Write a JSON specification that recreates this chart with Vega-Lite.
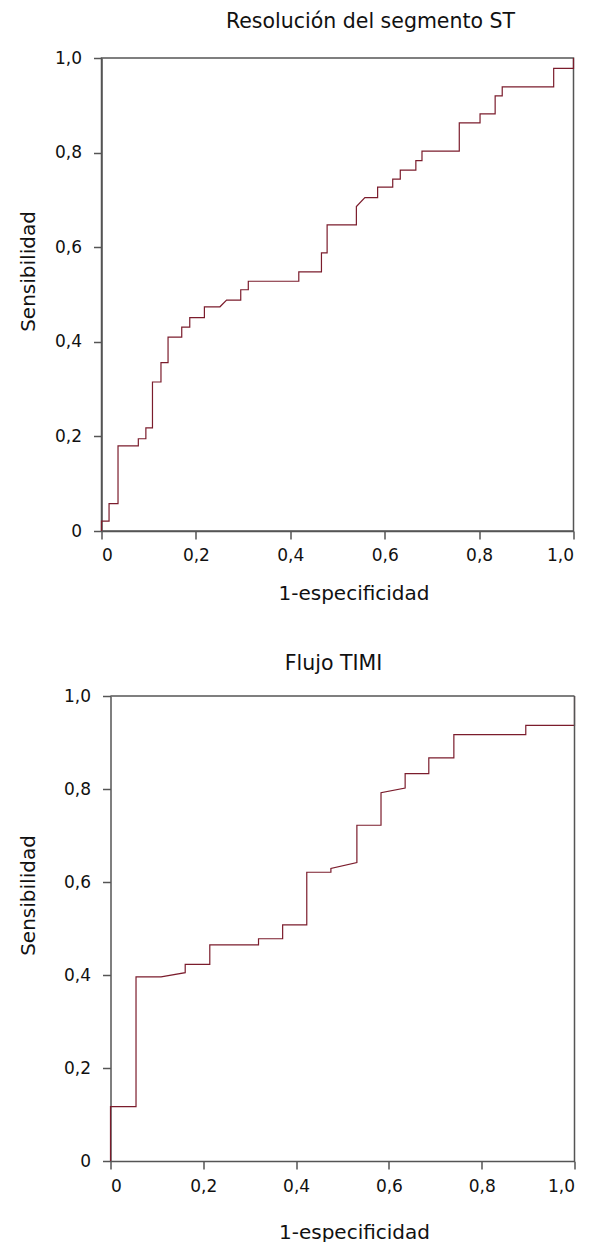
{
  "$schema": "https://vega.github.io/schema/vega-lite/v6.json",
  "background": "white",
  "padding": {"left": 16.5, "top": 10, "right": 5, "bottom": 0},
  "columns": 1,
  "align": "none",
  "spacing": 48,
  "config": {
    "font": "DejaVu Sans",
    "view": {"stroke": "#555555", "strokeWidth": 1.5},
    "axis": {
      "grid": false,
      "domainColor": "#555555",
      "domainWidth": 1.5,
      "tickColor": "#555555",
      "tickWidth": 1.5,
      "tickSize": 8,
      "labelFontSize": 17,
      "labelColor": "#111111",
      "titleFontSize": 20,
      "titleFontWeight": "normal",
      "titleColor": "#111111"
    },
    "title": {"fontSize": 20.5, "fontWeight": "normal", "color": "#111111"}
  },
  "datasets": {
    "st": [
      {"i": 0, "x": 0, "y": 0},
      {"i": 1, "x": 0, "y": 0.021},
      {"i": 2, "x": 0.016, "y": 0.021},
      {"i": 3, "x": 0.016, "y": 0.058},
      {"i": 4, "x": 0.035, "y": 0.058},
      {"i": 5, "x": 0.035, "y": 0.18},
      {"i": 6, "x": 0.078, "y": 0.18},
      {"i": 7, "x": 0.078, "y": 0.195},
      {"i": 8, "x": 0.094, "y": 0.195},
      {"i": 9, "x": 0.094, "y": 0.218},
      {"i": 10, "x": 0.108, "y": 0.218},
      {"i": 11, "x": 0.108, "y": 0.315},
      {"i": 12, "x": 0.126, "y": 0.315},
      {"i": 13, "x": 0.126, "y": 0.356},
      {"i": 14, "x": 0.141, "y": 0.356},
      {"i": 15, "x": 0.141, "y": 0.41},
      {"i": 16, "x": 0.17, "y": 0.41},
      {"i": 17, "x": 0.17, "y": 0.431},
      {"i": 18, "x": 0.187, "y": 0.431},
      {"i": 19, "x": 0.187, "y": 0.451},
      {"i": 20, "x": 0.218, "y": 0.451},
      {"i": 21, "x": 0.218, "y": 0.474},
      {"i": 22, "x": 0.251, "y": 0.474},
      {"i": 23, "x": 0.265, "y": 0.488},
      {"i": 24, "x": 0.295, "y": 0.488},
      {"i": 25, "x": 0.295, "y": 0.51},
      {"i": 26, "x": 0.311, "y": 0.51},
      {"i": 27, "x": 0.311, "y": 0.528},
      {"i": 28, "x": 0.418, "y": 0.528},
      {"i": 29, "x": 0.418, "y": 0.548},
      {"i": 30, "x": 0.466, "y": 0.548},
      {"i": 31, "x": 0.466, "y": 0.588},
      {"i": 32, "x": 0.478, "y": 0.588},
      {"i": 33, "x": 0.478, "y": 0.647},
      {"i": 34, "x": 0.54, "y": 0.647},
      {"i": 35, "x": 0.54, "y": 0.686},
      {"i": 36, "x": 0.558, "y": 0.705},
      {"i": 37, "x": 0.585, "y": 0.705},
      {"i": 38, "x": 0.585, "y": 0.727},
      {"i": 39, "x": 0.617, "y": 0.727},
      {"i": 40, "x": 0.617, "y": 0.744},
      {"i": 41, "x": 0.633, "y": 0.744},
      {"i": 42, "x": 0.633, "y": 0.763},
      {"i": 43, "x": 0.666, "y": 0.763},
      {"i": 44, "x": 0.666, "y": 0.783},
      {"i": 45, "x": 0.679, "y": 0.783},
      {"i": 46, "x": 0.679, "y": 0.803},
      {"i": 47, "x": 0.758, "y": 0.803},
      {"i": 48, "x": 0.758, "y": 0.863},
      {"i": 49, "x": 0.802, "y": 0.863},
      {"i": 50, "x": 0.802, "y": 0.882},
      {"i": 51, "x": 0.834, "y": 0.882},
      {"i": 52, "x": 0.834, "y": 0.92},
      {"i": 53, "x": 0.849, "y": 0.92},
      {"i": 54, "x": 0.849, "y": 0.939},
      {"i": 55, "x": 0.958, "y": 0.939},
      {"i": 56, "x": 0.958, "y": 0.978},
      {"i": 57, "x": 1, "y": 0.978},
      {"i": 58, "x": 1, "y": 1}
    ],
    "timi": [
      {"i": 0, "x": 0, "y": 0},
      {"i": 1, "x": 0, "y": 0.117},
      {"i": 2, "x": 0.055, "y": 0.117},
      {"i": 3, "x": 0.055, "y": 0.396},
      {"i": 4, "x": 0.109, "y": 0.396},
      {"i": 5, "x": 0.161, "y": 0.405},
      {"i": 6, "x": 0.161, "y": 0.423},
      {"i": 7, "x": 0.214, "y": 0.423},
      {"i": 8, "x": 0.214, "y": 0.465},
      {"i": 9, "x": 0.319, "y": 0.465},
      {"i": 10, "x": 0.319, "y": 0.478},
      {"i": 11, "x": 0.371, "y": 0.478},
      {"i": 12, "x": 0.371, "y": 0.508},
      {"i": 13, "x": 0.423, "y": 0.508},
      {"i": 14, "x": 0.423, "y": 0.621},
      {"i": 15, "x": 0.475, "y": 0.621},
      {"i": 16, "x": 0.475, "y": 0.629},
      {"i": 17, "x": 0.531, "y": 0.642},
      {"i": 18, "x": 0.531, "y": 0.722},
      {"i": 19, "x": 0.583, "y": 0.722},
      {"i": 20, "x": 0.583, "y": 0.792},
      {"i": 21, "x": 0.635, "y": 0.802},
      {"i": 22, "x": 0.635, "y": 0.833},
      {"i": 23, "x": 0.686, "y": 0.833},
      {"i": 24, "x": 0.686, "y": 0.867},
      {"i": 25, "x": 0.74, "y": 0.867},
      {"i": 26, "x": 0.74, "y": 0.917},
      {"i": 27, "x": 0.895, "y": 0.917},
      {"i": 28, "x": 0.895, "y": 0.937},
      {"i": 29, "x": 1, "y": 0.937},
      {"i": 30, "x": 1, "y": 1}
    ]
  },
  "concat": [
    {
      "title": {"text": "Resolución del segmento ST", "anchor": "middle", "dx": 33, "offset": 1, "baseline": "alphabetic"},
      "width": 472,
      "height": 473,
      "data": {"name": "st"},
      "mark": {"type": "line", "color": "#7b1c2c", "strokeWidth": 1.2},
      "encoding": {
        "x": {
          "field": "x", "type": "quantitative",
          "scale": {"domain": [0, 1], "nice": false},
          "axis": {
            "title": "1-especificidad",
            "values": [0, 0.2, 0.4, 0.6, 0.8, 1],
            "labelExpr": "datum.value == 0 ? '0' : replace(format(datum.value, '.1f'), '.', ',')",
            "labelPadding": 8,
            "titleX": 252,
            "titleY": 68.5,
            "titleAlign": "center",
            "titleBaseline": "alphabetic"
          }
        },
        "y": {
          "field": "y", "type": "quantitative",
          "scale": {"domain": [0, 1], "nice": false},
          "axis": {
            "title": "Sensibilidad",
            "values": [0, 0.2, 0.4, 0.6, 0.8, 1],
            "labelExpr": "datum.value == 0 ? '0' : replace(format(datum.value, '.1f'), '.', ',')",
            "labelPadding": 12,
            "titleAngle": -90,
            "titleX": -67.4,
            "titleY": 213,
            "titleAlign": "center",
            "titleBaseline": "alphabetic"
          }
        },
        "order": {"field": "i", "type": "quantitative"}
      }
    },
    {
      "title": {"text": "Flujo TIMI", "anchor": "middle", "dx": -4.5, "offset": -3, "baseline": "alphabetic"},
      "width": 473,
      "height": 465,
      "view": {"stroke": null},
      "layer": [
        {
          "data": {"name": "timi"},
          "mark": {"type": "line", "color": "#7b1c2c", "strokeWidth": 1.2},
          "encoding": {
            "x": {
              "field": "x", "type": "quantitative",
              "scale": {"domain": [0, 1], "nice": false, "range": [9, 473]},
              "axis": {
                "title": "1-especificidad",
                "values": [0, 0.2, 0.4, 0.6, 0.8, 1],
                "labelExpr": "datum.value == 0 ? '0' : replace(format(datum.value, '.1f'), '.', ',')",
                "labelPadding": 9.5,
                "titleX": 252.5,
                "titleY": 77,
                "titleAlign": "center",
                "titleBaseline": "alphabetic"
              }
            },
            "y": {
              "field": "y", "type": "quantitative",
              "scale": {"domain": [0, 1], "nice": false},
              "axis": {
                "title": "Sensibilidad",
                "offset": -9,
                "values": [0, 0.2, 0.4, 0.6, 0.8, 1],
                "labelExpr": "datum.value == 0 ? '0' : replace(format(datum.value, '.1f'), '.', ',')",
                "labelPadding": 12,
                "titleAngle": -90,
                "titleX": -76.2,
                "titleY": 199,
                "titleAlign": "center",
                "titleBaseline": "alphabetic"
              }
            },
            "order": {"field": "i", "type": "quantitative"}
          }
        },
        {
          "data": {"values": [{}]},
          "mark": {"type": "rule", "color": "#555555", "strokeWidth": 1.5},
          "encoding": {
            "x": {"datum": 0, "type": "quantitative"},
            "x2": {"datum": 1},
            "y": {"datum": 1, "type": "quantitative"}
          }
        },
        {
          "data": {"values": [{}]},
          "mark": {"type": "rule", "color": "#555555", "strokeWidth": 1.5},
          "encoding": {
            "x": {"datum": 1, "type": "quantitative"},
            "y": {"datum": 0, "type": "quantitative"},
            "y2": {"datum": 1}
          }
        }
      ]
    }
  ]
}
